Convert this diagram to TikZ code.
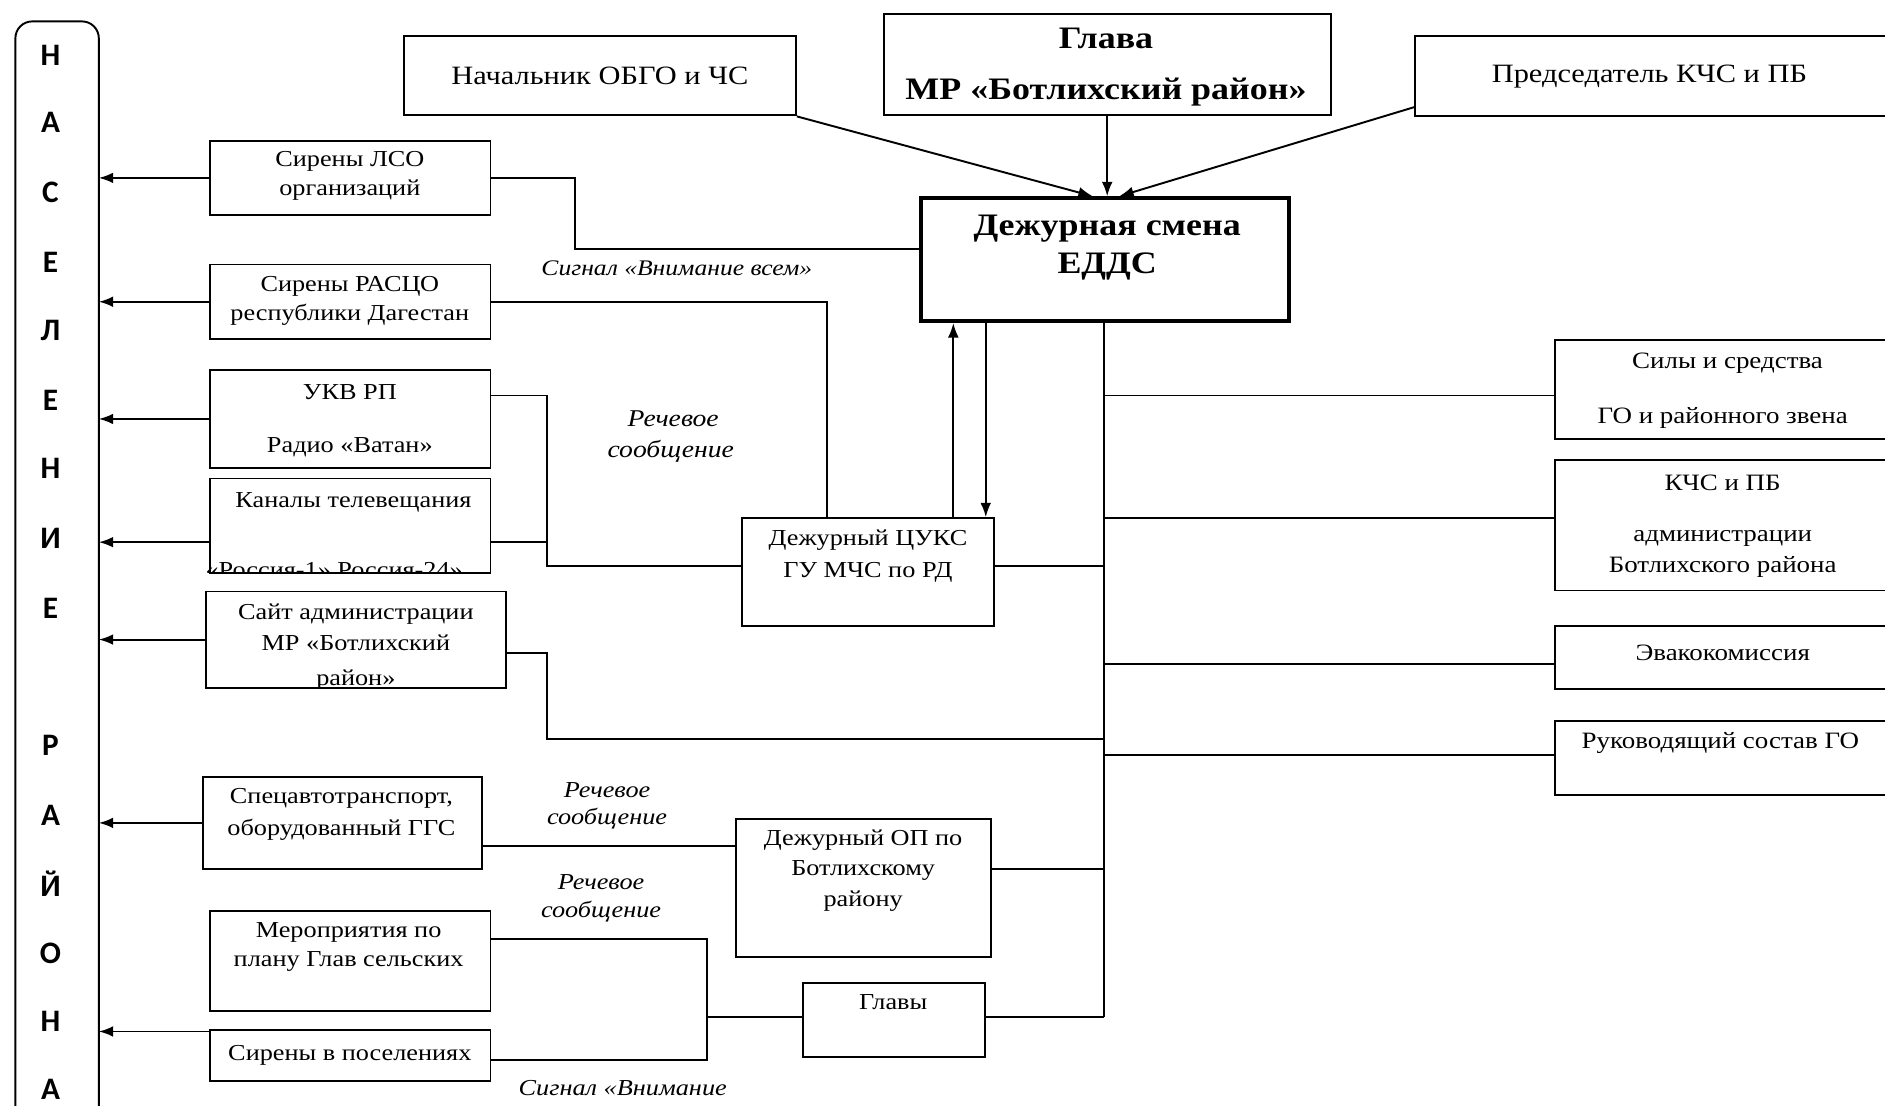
\documentclass[tikz,border=0pt]{standalone}
\usepackage{fontspec}
\setmainfont{Liberation Serif}[FakeStretch=1.15]
\newfontfamily\lettfont{Carlito}
\usetikzlibrary{arrows.meta,fit}
\begin{document}
\begin{tikzpicture}[x=1pt,y=-1pt,
  box/.style={draw, line width=1.6pt, inner sep=0pt},
  frame/.style={draw=none, inner sep=0pt},
  side/.style={line width=1.6pt},
  txt/.style={font=\fontsize{19}{22}\selectfont, inner sep=0pt},
  rtxt/.style={font=\fontsize{19.5}{22}\selectfont, inner sep=0pt},
  big/.style={font=\fontsize{22}{24}\selectfont, inner sep=0pt},
  bold/.style={font=\bfseries\fontsize{26}{28}\selectfont, inner sep=0pt},
  lbl/.style={font=\itshape\fontsize{19}{22}\selectfont, inner sep=0pt},
  conn/.style={line width=1.6pt},
  arr/.style={line width=1.6pt, -{Latex[length=12pt,width=9pt]}},
  lett/.style={font=\lettfont\bfseries\fontsize{26}{26}\selectfont, inner sep=0pt}
]
\useasboundingbox (0,0) rectangle (1568,920);

% left column "НАСЕЛЕНИЕ РАЙОНА"
\node[frame, fit={(13,18) (82,920)}] (pop) {};
\draw[side, rounded corners=14pt] (pop.south west) -- (pop.north west) -- (pop.north east) -- (pop.south east);
\foreach \yy/\cc [count=\i] in {46/Н,102/А,160/С,218/Е,275/Л,333/Е,390/Н,448/И,506/Е,620/Р,678/А,735/Й,793/О,850/Н,906/А}
  \node[lett] (let\i) at (42,\yy) {\cc};

% top boxes
\node[box, fit={(336,30) (662,96)}] (nach) {};
\node[big] (tnach) at (499,63) {Начальник ОБГО и ЧС};
\node[box, fit={(735,12) (1107,96)}] (glava) {};
\node[bold] (tglava1) at (920,32) {Глава};
\node[bold] (tglava2) at (920,77) {МР «Ботлихский район»};
\node[frame, fit={(1177,30) (1568,96)}] (pred) {};
\draw[side] (pred.north east) -- (pred.north west) -- (pred.south west) -- (pred.south east);
\node[big] (tpred) at (1372,64) {Председатель КЧС и ПБ};

% central box
\node[draw, line width=3.5pt, inner sep=0pt, fit={(766,165) (1072,267)}] (edds) {};
\node[bold] (tedds1) at (921,190) {Дежурная смена};
\node[bold] (tedds2) at (921,222) {ЕДДС};

% left boxes
\node[box, fit={(175,117) (408,179)}] (lso) {};
\node[txt] (tlso1) at (291,134) {Сирены ЛСО};
\node[txt] (tlso2) at (291,158) {организаций};
\node[box, fit={(175,220) (408,282)}] (rasco) {};
\node[txt] (trasco1) at (291,238) {Сирены РАСЦО};
\node[txt] (trasco2) at (291,262) {республики Дагестан};
\node[box, fit={(175,308) (408,389)}] (ukv) {};
\node[txt] (tukv1) at (291,326) {УКВ РП};
\node[txt] (tukv2) at (291,372) {Радио «Ватан»};
\node[box, fit={(175,398) (408,477)}] (kanal) {};
\node[txt] (tkanal1) at (294,418) {Каналы телевещания};
\begin{scope}
  \clip (150,399) rectangle (420,476);
  \node[txt] (tkanal2) at (278,474) {«Россия-1» Россия-24»};
\end{scope}
\node[box, fit={(171,492) (421,572)}] (sait) {};
\node[txt] (tsait1) at (296,511) {Сайт администрации};
\node[txt] (tsait2) at (296,535) {МР «Ботлихский};
\begin{scope}
  \clip (150,493) rectangle (430,571);
  \node[txt] (tsait3) at (296,566) {район»};
\end{scope}
\node[box, fit={(169,646) (401,723)}] (spec) {};
\node[txt] (tspec1) at (284,664) {Спецавтотранспорт,};
\node[txt] (tspec2) at (284,690) {оборудованный ГГС};
\node[box, fit={(175,758) (408,841)}] (merop) {};
\node[txt] (tmerop1) at (290,776) {Мероприятия по};
\node[txt] (tmerop2) at (290,800) {плану Глав сельских};
\node[box, fit={(175,857) (408,899)}] (sirp) {};
\node[txt] (tsirp) at (291,878) {Сирены в поселениях};

% middle boxes
\node[box, fit={(617,431) (827,521)}] (cuks) {};
\node[txt] (tcuks1) at (722,449) {Дежурный ЦУКС};
\node[txt] (tcuks2) at (722,476) {ГУ МЧС по РД};
\node[box, fit={(612,681) (824,796)}] (op) {};
\node[txt] (top1) at (718,699) {Дежурный ОП по};
\node[txt] (top2) at (718,724) {Ботлихскому};
\node[txt] (top3) at (718,750) {району};
\node[box, fit={(668,818) (819,879)}] (glavy) {};
\node[txt] (tglavy) at (743,834) {Главы};

% right boxes (cut at the right edge)
\node[frame, fit={(1294,283) (1568,365)}] (sily) {};
\draw[side] (sily.north east) -- (sily.north west) -- (sily.south west) -- (sily.south east);
\node[rtxt] (tsily1) at (1437,302) {Силы и средства};
\node[rtxt] (tsily2) at (1433,348) {ГО и районного звена};
\node[frame, fit={(1294,383) (1568,491)}] (kchs) {};
\draw[side] (kchs.north east) -- (kchs.north west) -- (kchs.south west) -- (kchs.south east);
\node[rtxt] (tkchs1) at (1433,402) {КЧС и ПБ};
\node[rtxt] (tkchs2) at (1433,448) {администрации};
\node[rtxt] (tkchs3) at (1433,472) {Ботлихского района};
\node[frame, fit={(1294,521) (1568,573)}] (evak) {};
\draw[side] (evak.north east) -- (evak.north west) -- (evak.south west) -- (evak.south east);
\node[rtxt] (tevak) at (1433,543) {Эвакокомиссия};
\node[frame, fit={(1294,600) (1568,661)}] (ruk) {};
\draw[side] (ruk.north east) -- (ruk.north west) -- (ruk.south west) -- (ruk.south east);
\node[rtxt] (truk) at (1431,618) {Руководящий состав ГО};

% italic labels
\node[lbl, font=\itshape\fontsize{18.5}{22}\selectfont] (lab1) at (563,223) {Сигнал «Внимание всем»};
\node[lbl, font=\itshape\fontsize{20}{22}\selectfont] (lab2a) at (560,348) {Речевое};
\node[lbl, font=\itshape\fontsize{20}{22}\selectfont] (lab2b) at (558,375) {сообщение};
\node[lbl] (lab3a) at (505,657) {Речевое};
\node[lbl] (lab3b) at (505,681) {сообщение};
\node[lbl] (lab4a) at (500,734) {Речевое};
\node[lbl] (lab4b) at (500,758) {сообщение};
\node[lbl] (lab5) at (518,905) {Сигнал «Внимание};

% helper coordinates
\coordinate (yPred) at (0,89);
\coordinate (bL) at (478,207);
\coordinate (xR) at (688,0);
\coordinate (yU) at (0,329);
\coordinate (yK) at (0,451);
\coordinate (bU) at (455,471);
\coordinate (yC) at (0,471);
\coordinate (xUp) at (793,0);
\coordinate (xDn) at (820,0);
\coordinate (bus) at (918,0);
\coordinate (ySily) at (0,329);
\coordinate (yKchs) at (0,431);
\coordinate (yEvak) at (0,552);
\coordinate (yRuk) at (0,628);
\coordinate (yS) at (0,543);
\coordinate (bS) at (455,615);
\coordinate (yO) at (0,723);
\coordinate (ySp) at (0,704);
\coordinate (yM) at (0,781);
\coordinate (yP) at (0,882);
\coordinate (xM) at (588,0);
\coordinate (yG) at (0,846);
\coordinate (ySirA) at (0,858);

% arrows into EDDS
\draw[arr] (nach.south east) -- ([xshift=-10pt]edds.north);
\draw[arr] (glava.south) -- (glava.south |- edds.north);
\draw[arr] (pred.west |- yPred) -- ([xshift=12pt]edds.north);

% EDDS <-> CUKS
\draw[arr] (cuks.north -| xUp) -- (edds.south -| xUp);
\draw[arr] (edds.south -| xDn) -- (cuks.north -| xDn);

% arrows to population
\draw[arr] (lso.west) -- (lso.west -| pop.east);
\draw[arr] (rasco.west) -- (rasco.west -| pop.east);
\draw[arr] (ukv.west) -- (ukv.west -| pop.east);
\draw[arr] (kanal.west |- yK) -- (yK -| pop.east);
\draw[arr] (sait.west) -- (sait.west -| pop.east);
\draw[arr] (spec.west) -- (spec.west -| pop.east);
\draw[arr] (sirp.west |- ySirA) -- (ySirA -| pop.east);

% connectors
\draw[conn] (lso.east) -| (bL) -- (bL -| edds.west);
\draw[conn] (rasco.east) -| (xR |- cuks.north);
\draw[conn] (ukv.east |- yU) -| (bU) -- (bU -| cuks.west);
\draw[conn] (kanal.east |- yK) -- (yK -| bU);
\draw[conn] (edds.south -| bus) -- (bus |- yG);
\draw[conn] (cuks.east |- yC) -- (yC -| bus);
\draw[conn] (bus |- ySily) -- (sily.west |- ySily);
\draw[conn] (bus |- yKchs) -- (kchs.west |- yKchs);
\draw[conn] (bus |- yEvak) -- (evak.west |- yEvak);
\draw[conn] (bus |- yRuk) -- (ruk.west |- yRuk);
\draw[conn] (sait.east |- yS) -| (bS) -- (bS -| bus);
\draw[conn] (op.east |- yO) -- (yO -| bus);
\draw[conn] (spec.east |- ySp) -- (op.west |- ySp);
\draw[conn] (merop.east |- yM) -| (xM |- yP) -- (sirp.east |- yP);
\draw[conn] (xM |- yG) -- (glavy.west |- yG);
\draw[conn] (glavy.east |- yG) -- (yG -| bus);
\end{tikzpicture}
\end{document}
